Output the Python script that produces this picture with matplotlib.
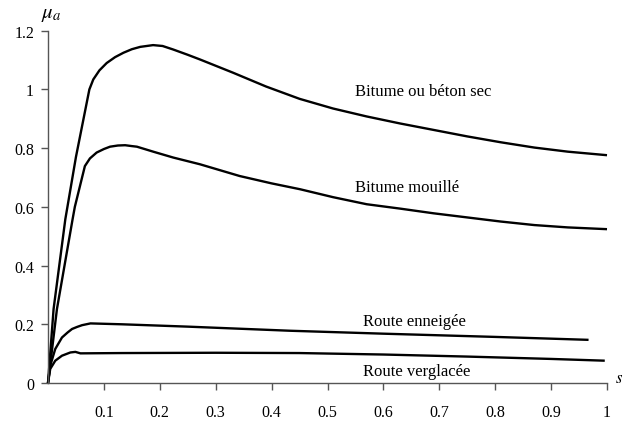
import matplotlib
matplotlib.use("Agg")
import matplotlib.pyplot as plt
from matplotlib.ticker import FuncFormatter

plt.rcParams["font.family"] = ["Liberation Serif", "DejaVu Serif"]
plt.rcParams["mathtext.fontset"] = "stix"

# slip s and friction coefficient mu_a
sec_s = [0, 0.010, 0.031, 0.050, 0.074, 0.081, 0.092, 0.105, 0.120, 0.135,
         0.150, 0.165, 0.188, 0.205, 0.224, 0.250, 0.272, 0.331, 0.390,
         0.450, 0.510, 0.570, 0.630, 0.690, 0.750, 0.810, 0.870, 0.930, 1.0]
sec_mu = [0, 0.252, 0.558, 0.770, 1.0, 1.034, 1.065, 1.090, 1.110, 1.125,
          1.137, 1.145, 1.151, 1.148, 1.136, 1.118, 1.102, 1.057, 1.010,
          0.968, 0.935, 0.908, 0.884, 0.862, 0.840, 0.820, 0.802, 0.788, 0.776]

mouille_s = [0, 0.016, 0.044, 0.048, 0.066, 0.075, 0.087, 0.100, 0.111,
             0.125, 0.138, 0.150, 0.159, 0.190, 0.224, 0.272, 0.343, 0.400,
             0.451, 0.510, 0.570, 0.630, 0.690, 0.750, 0.810, 0.870, 0.930, 1.0]
mouille_mu = [0, 0.252, 0.558, 0.600, 0.739, 0.765, 0.785, 0.797, 0.805,
              0.809, 0.810, 0.807, 0.805, 0.787, 0.768, 0.745, 0.705, 0.680,
              0.660, 0.633, 0.609, 0.594, 0.578, 0.564, 0.550, 0.538, 0.530, 0.524]

neige_s = [0, 0.004, 0.013, 0.025, 0.035, 0.043, 0.052, 0.061, 0.076,
           0.132, 0.250, 0.433, 0.600, 0.800, 0.967]
neige_mu = [0, 0.059, 0.116, 0.155, 0.172, 0.184, 0.191, 0.197, 0.203,
            0.200, 0.192, 0.178, 0.168, 0.157, 0.147]

verglas_s = [0, 0.004, 0.013, 0.025, 0.040, 0.049, 0.058, 0.132, 0.300,
             0.450, 0.600, 0.750, 0.900, 0.996]
verglas_mu = [0, 0.048, 0.076, 0.093, 0.104, 0.106, 0.101, 0.102, 0.103,
              0.102, 0.097, 0.090, 0.082, 0.076]

labels = ["Bitume ou béton sec", "Bitume mouillé", "Route enneigée", "Route verglacée"]
label_s = [0.549, 0.549, 0.563, 0.564]
label_mu = [0.993, 0.667, 0.212, 0.042]

x_ticks = [0.1, 0.2, 0.3, 0.4, 0.5, 0.6, 0.7, 0.8, 0.9, 1.0]
y_ticks = [0, 0.2, 0.4, 0.6, 0.8, 1.0, 1.2]

fig = plt.figure(figsize=(6.25, 4.27), dpi=100)
ax = fig.add_axes([0.0768, 0.1007, 0.8944, 0.825])

for s, mu in [(sec_s, sec_mu), (mouille_s, mouille_mu),
              (neige_s, neige_mu), (verglas_s, verglas_mu)]:
    ax.plot(s, mu, color="black", lw=1.7, solid_capstyle="butt",
            solid_joinstyle="round", clip_on=False)

for txt, s, mu in zip(labels, label_s, label_mu):
    ax.text(s, mu, txt, ha="left", va="center", fontsize=12)

ax.set_xlim(0, 1)
ax.set_ylim(0, 1.2)
ax.set_xticks(x_ticks)
ax.set_yticks(y_ticks)
fmt = FuncFormatter(lambda v, p: "%g" % v)
ax.xaxis.set_major_formatter(fmt)
ax.yaxis.set_major_formatter(fmt)

for side in ["top", "right"]:
    ax.spines[side].set_visible(False)
for side in ["left", "bottom"]:
    ax.spines[side].set_color("#555555")
    ax.spines[side].set_linewidth(1.0)

ax.tick_params(axis="both", direction="out", length=5, width=1.0,
               color="#555555", labelsize=11.5)
ax.tick_params(axis="x", pad=10)
ax.tick_params(axis="y", pad=5)

fig.text(0.0816, 0.967, r"$\mu_a$", ha="center", va="center", fontsize=15)
fig.text(0.984, 0.112, r"$s$", ha="left", va="center", fontsize=12)

fig.savefig("out.png", dpi=100)
